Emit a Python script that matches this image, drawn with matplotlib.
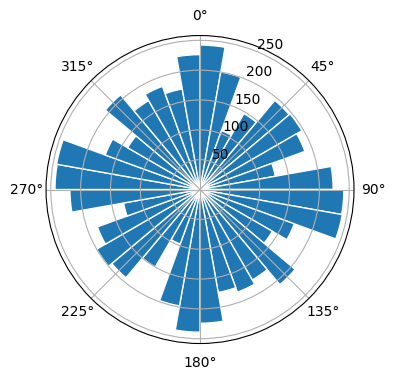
import numpy as np
import matplotlib.pyplot as plt

# counts per 10-degree direction bin, starting at north and going clockwise
bin_start_deg = list(range(0, 360, 10))
counts = [242, 200, 105, 147, 195, 197, 187, 128, 223,
          241, 242, 168, 140, 208, 175, 183, 175, 224,
          239, 198, 97, 150, 193, 200, 183, 130, 218,
          243, 244, 169, 140, 207, 172, 184, 171, 226]

fig = plt.figure(figsize=(3.96, 3.8), dpi=100)
ax = fig.add_axes([0.1162, 0.096, 0.7778, 0.8105], projection='polar')
ax.set_theta_zero_location('N')
ax.set_theta_direction(-1)

theta = np.deg2rad(bin_start_deg)
ax.bar(theta, counts, width=np.deg2rad(10), align='edge',
       color='#1f77b4', edgecolor='white')
ax.set_ylim(0, 258)
ax.set_yticks([50, 100, 150, 200, 250])
ax.grid(True)

fig.savefig('out.png', dpi=100)
